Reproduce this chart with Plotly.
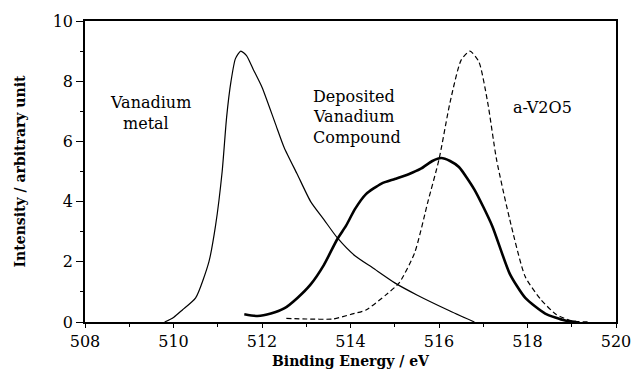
import plotly.graph_objects as go

# Vanadium metal (thin solid)
metal_x = [509.8, 510.0, 510.2, 510.5, 510.8, 510.95, 511.1, 511.2, 511.3, 511.4, 511.52, 511.65,
           511.8, 512.0, 512.3, 512.5, 512.8, 513.1, 513.4, 513.7, 514.1, 514.5, 515.0, 515.5,
           516.2, 516.8]
metal_y = [0.0, 0.15, 0.4, 0.8, 2.0, 3.2, 5.0, 6.8, 8.0, 8.75, 9.0, 8.85,
           8.4, 7.8, 6.6, 5.8, 4.9, 4.0, 3.4, 2.8, 2.2, 1.8, 1.3, 0.9,
           0.4, 0.0]

# Deposited vanadium compound (thick solid)
dep_x = [511.6, 511.9, 512.2, 512.5, 512.8, 513.1, 513.4, 513.7, 513.9, 514.1, 514.35, 514.7,
         515.0, 515.3, 515.6, 515.85, 516.05, 516.25, 516.45, 516.8, 517.2, 517.6, 517.95,
         518.4, 518.85, 519.1]
dep_y = [0.26, 0.2, 0.28, 0.45, 0.8, 1.25, 1.9, 2.75, 3.2, 3.75, 4.25, 4.6,
         4.75, 4.9, 5.1, 5.35, 5.45, 5.35, 5.15, 4.4, 3.2, 1.6, 0.8,
         0.28, 0.05, 0.0]

# a-V2O5 (dashed)
v2o5_x = [512.55, 513.0, 513.6, 514.0, 514.35, 514.8, 515.1, 515.45, 515.75, 516.0, 516.25,
          516.5, 516.7, 516.9, 517.1, 517.3, 517.6, 517.95, 518.3, 518.65, 519.0, 519.4]
v2o5_y = [0.12, 0.1, 0.1, 0.25, 0.4, 0.9, 1.3, 2.3, 4.0, 5.4, 7.3,
          8.7, 9.0, 8.65, 7.3, 5.4, 3.4, 1.5, 0.75, 0.25, 0.04, 0.0]

x_ticks = [508, 510, 512, 514, 516, 518, 520]
y_ticks = [0, 2, 4, 6, 8, 10]

FONT = "DejaVu Serif"

fig = go.Figure()
fig.add_trace(go.Scatter(x=metal_x, y=metal_y, mode="lines",
                         line=dict(color="black", width=1.2, shape="spline", smoothing=0.6)))
fig.add_trace(go.Scatter(x=dep_x, y=dep_y, mode="lines",
                         line=dict(color="black", width=2.6, shape="spline", smoothing=0.6)))
fig.add_trace(go.Scatter(x=v2o5_x, y=v2o5_y, mode="lines",
                         line=dict(color="black", width=1.2, dash="5px,3px", shape="spline", smoothing=0.6)))

labels = [
    ("Vanadium", 508.51, 7.29),
    ("metal", 508.82, 6.58),
    ("Deposited", 513.11, 7.5),
    ("Vanadium", 513.11, 6.82),
    ("Compound", 513.11, 6.14),
    ("a-V2O5", 517.62, 7.14),
]
for txt, x, y in labels:
    fig.add_annotation(x=x, y=y, text=txt, showarrow=False, xanchor="left", yanchor="middle",
                       font=dict(family=FONT, size=16, color="black"))

fig.update_layout(
    width=643, height=379,
    margin=dict(l=85, r=18, t=16, b=56),
    paper_bgcolor="white", plot_bgcolor="white",
    showlegend=False,
    font=dict(family=FONT, color="black"),
)
fig.update_xaxes(
    range=[508, 520], tickvals=x_ticks, ticktext=[str(v) for v in x_ticks],
    showgrid=False, zeroline=False, showline=True, mirror=True, linecolor="black", linewidth=1.5,
    ticks="outside", ticklen=4, tickcolor="black",
    minor=dict(dtick=1, ticks="outside", ticklen=3, tickcolor="black"),
    tickfont=dict(family=FONT, size=16),
    title=dict(text="<b>Binding Energy / eV</b>", font=dict(family=FONT, size=14), standoff=6),
)
fig.update_yaxes(
    range=[0, 10], tickvals=y_ticks, ticktext=[str(v) for v in y_ticks],
    showgrid=False, zeroline=False, showline=True, mirror=True, linecolor="black", linewidth=1.5,
    ticks="outside", ticklen=7, tickcolor="black",
    minor=dict(dtick=1, ticks="outside", ticklen=3, tickcolor="black"),
    tickfont=dict(family=FONT, size=16),
    title=dict(text="<b>Intensity / arbitrary unit</b>", font=dict(family=FONT, size=14), standoff=24),
)

fig.write_html("out.html")
